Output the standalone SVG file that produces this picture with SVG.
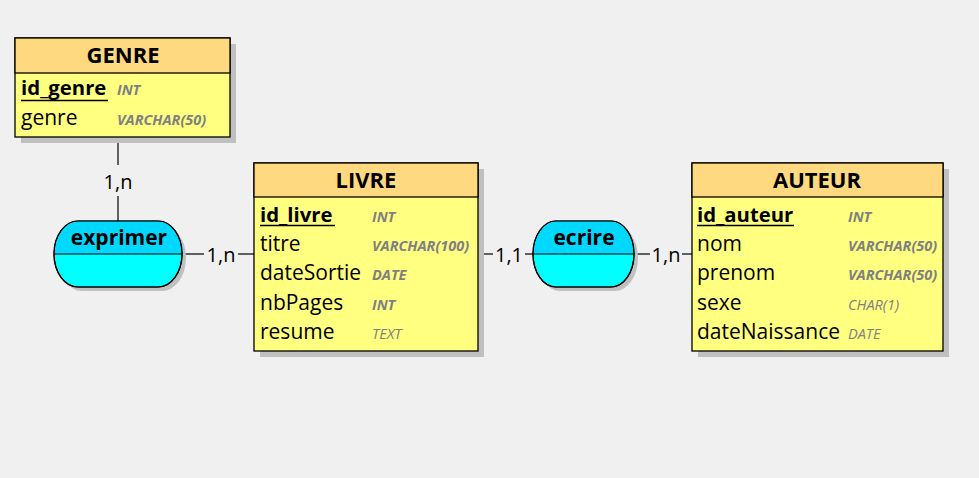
<svg xmlns="http://www.w3.org/2000/svg" width="979" height="478" viewBox="0 0 979 478">
<style>
.bg{fill:#f0f0f0}
.shadow{fill:#c0c0c0}
.hdr{fill:#ffd980;stroke:#000;stroke-width:1.3}
.body{fill:#ffff80;stroke:#000;stroke-width:1.3}
.title{font-family:"Open Sans","Liberation Sans",sans-serif;font-size:22px;font-weight:bold;fill:#000;text-anchor:middle}
.fld{font-family:"Open Sans","Liberation Sans",sans-serif;font-size:21px;fill:#000}
.pk{font-weight:bold;font-size:20.3px}
.ul{stroke:#000;stroke-width:1.6}
.typ{font-family:"Open Sans","Liberation Sans",sans-serif;font-size:14.5px;font-style:italic;fill:#808080}
.tb{font-weight:bold}
.assoc-top{fill:#00d8ff}
.assoc-bot{fill:#00ffff;stroke:#000;stroke-width:1.2}
.aname{font-family:"Open Sans","Liberation Sans",sans-serif;font-size:21px;font-weight:bold;fill:#000;text-anchor:middle}
.ln{stroke:#000;stroke-width:1.2;fill:none}
.card{font-family:"Open Sans","Liberation Sans",sans-serif;font-size:20px;fill:#000;text-anchor:middle}
</style>
<rect class="bg" x="0" y="0" width="979" height="478"/>

<g id="connectors">
<line class="ln" x1="118" y1="137" x2="118" y2="165"/>
<line class="ln" x1="118" y1="196" x2="118" y2="221"/>
<text class="card" x="118" y="189">1,n</text>
<line class="ln" x1="182" y1="254" x2="204" y2="254"/>
<line class="ln" x1="238" y1="254" x2="254" y2="254"/>
<text class="card" x="221" y="262">1,n</text>
<line class="ln" x1="478" y1="254" x2="493" y2="254"/>
<line class="ln" x1="525" y1="254" x2="533" y2="254"/>
<text class="card" x="509" y="262">1,1</text>
<line class="ln" x1="634" y1="254" x2="650" y2="254"/>
<line class="ln" x1="682" y1="254" x2="692" y2="254"/>
<text class="card" x="666" y="262">1,n</text>
</g>

<g id="genre">
<rect class="shadow" x="21" y="44" width="215" height="99"/>
<rect class="body" x="15" y="38" width="215" height="99"/>
<rect class="hdr" x="15" y="38" width="215" height="35"/>
<text class="title" x="123" y="63">GENRE</text>
<text class="fld pk" x="21" y="95">id_genre</text>
<line class="ul" x1="21" y1="100.5" x2="108" y2="100.5"/>
<text class="typ tb" x="117" y="95">INT</text>
<text class="fld" x="21" y="125">genre</text>
<text class="typ tb" x="117" y="125">VARCHAR(50)</text>
</g>

<g id="livre">
<rect class="shadow" x="260" y="169" width="224" height="188"/>
<rect class="body" x="254" y="163" width="224" height="188"/>
<rect class="hdr" x="254" y="163" width="224" height="34"/>
<text class="title" x="366" y="188">LIVRE</text>
<text class="fld pk" x="260" y="222">id_livre</text>
<line class="ul" x1="260" y1="225.5" x2="335" y2="225.5"/>
<text class="typ tb" x="372" y="222">INT</text>
<text class="fld" x="260" y="251">titre</text>
<text class="typ tb" x="372" y="251">VARCHAR(100)</text>
<text class="fld" x="260" y="280">dateSortie</text>
<text class="typ tb" x="372" y="280">DATE</text>
<text class="fld" x="260" y="309.5">nbPages</text>
<text class="typ tb" x="372" y="309.5">INT</text>
<text class="fld" x="260" y="339">resume</text>
<text class="typ" x="372" y="339">TEXT</text>
</g>

<g id="auteur">
<rect class="shadow" x="698" y="169" width="251" height="188"/>
<rect class="body" x="692" y="163" width="251" height="188"/>
<rect class="hdr" x="692" y="163" width="251" height="34"/>
<text class="title" x="817" y="188">AUTEUR</text>
<text class="fld pk" x="697" y="222">id_auteur</text>
<line class="ul" x1="697" y1="225.5" x2="794" y2="225.5"/>
<text class="typ tb" x="848" y="222">INT</text>
<text class="fld" x="697" y="251">nom</text>
<text class="typ tb" x="848" y="251">VARCHAR(50)</text>
<text class="fld" x="697" y="280">prenom</text>
<text class="typ tb" x="848" y="280">VARCHAR(50)</text>
<text class="fld" x="697" y="309.5">sexe</text>
<text class="typ" x="848" y="309.5">CHAR(1)</text>
<text class="fld" x="697" y="339">dateNaissance</text>
<text class="typ" x="848" y="339">DATE</text>
</g>

<g id="exprimer">
<rect class="shadow" x="58" y="225" width="128" height="66" rx="24" ry="33"/>
<rect class="assoc-bot" x="54" y="221" width="128" height="66" rx="24" ry="33"/>
<path class="assoc-top" d="M54.6 254 A24 33 0 0 1 78 221.6 H158 A24 33 0 0 1 181.4 254 Z"/>
<rect fill="none" stroke="#000" stroke-width="1.2" x="54" y="221" width="128" height="66" rx="24" ry="33"/>
<line class="ln" x1="54" y1="254" x2="182" y2="254"/>
<text class="aname" x="119" y="245">exprimer</text>
</g>

<g id="ecrire">
<rect class="shadow" x="537" y="225" width="101" height="66" rx="23" ry="33"/>
<rect class="assoc-bot" x="533" y="221" width="101" height="66" rx="23" ry="33"/>
<path class="assoc-top" d="M533.6 254 A23 33 0 0 1 556 221.6 H611 A23 33 0 0 1 633.4 254 Z"/>
<rect fill="none" stroke="#000" stroke-width="1.2" x="533" y="221" width="101" height="66" rx="23" ry="33"/>
<line class="ln" x1="533" y1="254" x2="634" y2="254"/>
<text class="aname" x="584" y="245">ecrire</text>
</g>
</svg>
